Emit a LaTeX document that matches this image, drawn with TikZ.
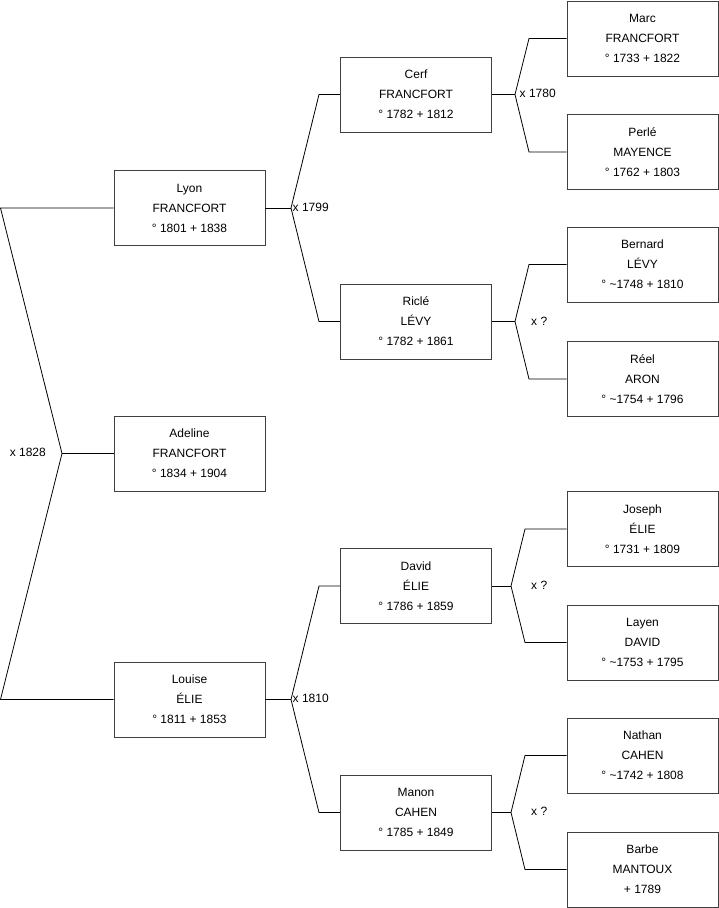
\documentclass[tikz,border=0pt]{standalone}
\usepackage{fontspec}
\setmainfont{Liberation Sans}
\begin{document}
\begin{tikzpicture}[x=1pt,y=-1pt,
  person/.style={draw=black!75,line width=0.9pt,minimum width=151pt,minimum height=75pt,inner sep=0pt,align=center,font=\fontsize{12}{20}\selectfont},
  link/.style={draw=black,line width=0.8pt},
  mlabel/.style={font=\fontsize{12}{14}\selectfont,inner sep=0pt}]
\useasboundingbox (0,0) rectangle (719,908);
% column 1
\node[person] (lyon) at (189.5,208) {Lyon\\FRANCFORT\\° 1801 + 1838};
\node[person] (adeline) at (189.5,453.5) {Adeline\\FRANCFORT\\° 1834 + 1904};
\node[person] (louise) at (189.5,699.5) {Louise\\ÉLIE\\° 1811 + 1853};
% column 2
\node[person] (cerf) at (416,94.5) {Cerf\\FRANCFORT\\° 1782 + 1812};
\node[person] (ricle) at (416,321.5) {Riclé\\LÉVY\\° 1782 + 1861};
\node[person] (david) at (416,586) {David\\ÉLIE\\° 1786 + 1859};
\node[person] (manon) at (416,812.5) {Manon\\CAHEN\\° 1785 + 1849};
% column 3
\node[person] (marc) at (642.5,38.5) {Marc\\FRANCFORT\\° 1733 + 1822};
\node[person] (perle) at (642.5,152) {Perlé\\MAYENCE\\° 1762 + 1803};
\node[person] (bernard) at (642.5,264.5) {Bernard\\LÉVY\\° \textasciitilde1748 + 1810};
\node[person] (reel) at (642.5,379) {Réel\\ARON\\° \textasciitilde1754 + 1796};
\node[person] (joseph) at (642.5,529) {Joseph\\ÉLIE\\° 1731 + 1809};
\node[person] (layen) at (642.5,642.5) {Layen\\DAVID\\° \textasciitilde1753 + 1795};
\node[person] (nathan) at (642.5,755.5) {Nathan\\CAHEN\\° \textasciitilde1742 + 1808};
\node[person] (barbe) at (642.5,869.5) {Barbe\\MANTOUX\\+ 1789};
% junction coordinates
\coordinate (r0) at (0.5,208);
\coordinate (r1) at (0.5,699.5);
\coordinate (rj) at (62,453.5);
\coordinate (lj) at (291,208);
\coordinate (lu) at (319,94.5);
\coordinate (ld) at (319,321.5);
\coordinate (oj) at (291,699.5);
\coordinate (ou) at (319,586);
\coordinate (od) at (319,812.5);
\coordinate (cj) at (515,94.5);
\coordinate (cu) at (529,38.5);
\coordinate (cd) at (529,152);
\coordinate (kj) at (515,321.5);
\coordinate (ku) at (529,264.5);
\coordinate (kd) at (529,379);
\coordinate (dj) at (511,586);
\coordinate (du) at (525,529);
\coordinate (dd) at (525,642.5);
\coordinate (mj) at (511,812.5);
\coordinate (mu) at (525,755.5);
\coordinate (md) at (525,869.5);
% connectors
\draw[link] (lyon.west) -- (r0) -- (rj) -- (r1) -- (louise.west);
\draw[link] (rj) -- (adeline.west);
\draw[link] (lyon.east) -- (lj);
\draw[link] (cerf.west) -- (lu) -- (lj) -- (ld) -- (ricle.west);
\draw[link] (louise.east) -- (oj);
\draw[link] (david.west) -- (ou) -- (oj) -- (od) -- (manon.west);
\draw[link] (cerf.east) -- (cj);
\draw[link] (marc.west) -- (cu) -- (cj) -- (cd) -- (perle.west);
\draw[link] (ricle.east) -- (kj);
\draw[link] (bernard.west) -- (ku) -- (kj) -- (kd) -- (reel.west);
\draw[link] (david.east) -- (dj);
\draw[link] (joseph.west) -- (du) -- (dj) -- (dd) -- (layen.west);
\draw[link] (manon.east) -- (mj);
\draw[link] (nathan.west) -- (mu) -- (mj) -- (md) -- (barbe.west);
% marriage labels
\node[mlabel,anchor=east] (m1828) at (46,452) {x 1828};
\node[mlabel,anchor=west] (m1799) at (292.5,207) {x 1799};
\node[mlabel,anchor=west] (m1810) at (292.5,698.5) {x 1810};
\node[mlabel,anchor=west] (m1780) at (519.5,93) {x 1780};
\node[mlabel,anchor=west] (mq1) at (531,321) {x ?};
\node[mlabel,anchor=west] (mq2) at (531,585) {x ?};
\node[mlabel,anchor=west] (mq3) at (531,811) {x ?};
\end{tikzpicture}
\end{document}
